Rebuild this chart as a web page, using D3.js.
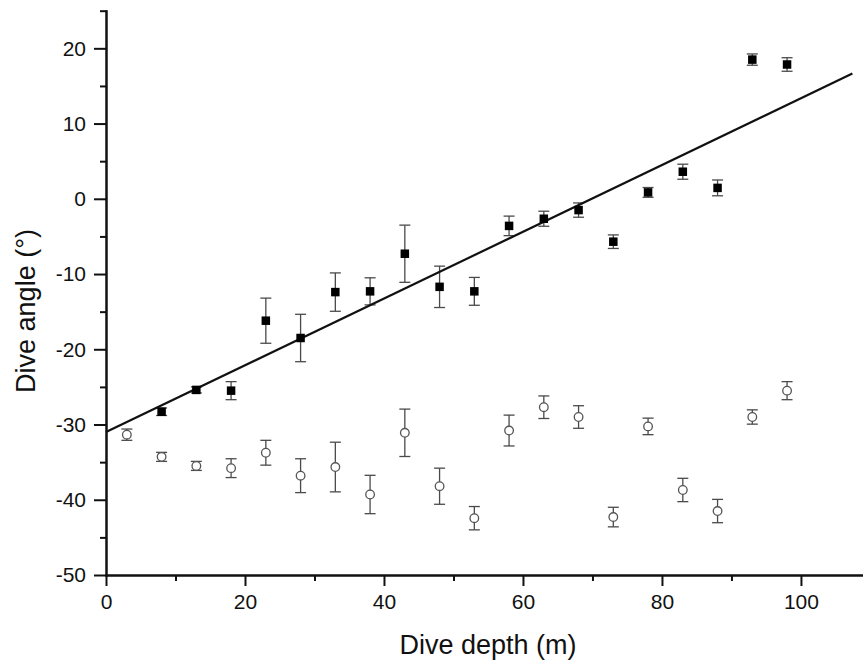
<!DOCTYPE html>
<html>
<head>
<meta charset="utf-8">
<script src="https://cdn.jsdelivr.net/npm/d3@7"></script>
<style>
  html, body { margin: 0; padding: 0; background: #fff; }
  svg { display: block; font-family: "Liberation Sans", Arial, Helvetica, sans-serif; }
</style>
</head>
<body>
<svg id="chart" width="863" height="662"></svg>
<script>
// Dive depth bins (m)
const depths = [3, 8, 13, 18, 23, 28, 33, 38, 43, 48, 53, 58, 63, 68, 73, 78, 83, 88, 93, 98];

// Filled squares: mean dive angle (°) and its error (null = no value)
const squareMean = [null, -28.3, -25.4, -25.5, -16.2, -18.5, -12.4, -12.3, -7.3, -11.7,
                    -12.3, -3.6, -2.65, -1.5, -5.7, 0.85, 3.6, 1.45, 18.5, 17.85];
const squareErr  = [null, 0.5, 0.4, 1.2, 3.0, 3.15, 2.55, 1.8, 3.8, 2.75,
                    1.85, 1.3, 1.0, 0.95, 0.9, 0.65, 1.0, 1.05, 0.75, 0.9];

// Open circles: mean dive angle (°) and its error
const circleMean = [-31.35, -34.3, -35.5, -35.8, -33.75, -36.8, -35.65, -39.3, -31.1, -38.2,
                    -42.45, -30.8, -27.7, -29.0, -42.3, -30.25, -38.7, -41.5, -29.0, -25.5];
const circleErr  = [0.75, 0.6, 0.6, 1.25, 1.65, 2.25, 3.3, 2.55, 3.15, 2.4,
                    1.55, 2.05, 1.5, 1.5, 1.3, 1.1, 1.55, 1.55, 0.95, 1.2];

// Linear fit through the filled squares
const fitIntercept = -31.0;
const fitSlope = 0.4436;
const fitRange = [0, 107.4];

// Axis ticks
const xMajor = [0, 20, 40, 60, 80, 100];
const xMinor = [10, 30, 50, 70, 90];
const yMajor = [-50, -40, -30, -20, -10, 0, 10, 20];
const yMinor = [-45, -35, -25, -15, -5, 5, 15, 25];

const svg = d3.select("#chart");
const ink = "#111";

const x = d3.scaleLinear().domain([0, 109]).range([106, 863.5]);
const y = d3.scaleLinear().domain([-50, 25]).range([575, 10.7]);

const squares = depths.map((d, i) => ({ d, m: squareMean[i], e: squareErr[i] }))
                      .filter(p => p.m !== null);
const circles = depths.map((d, i) => ({ d, m: circleMean[i], e: circleErr[i] }));

// plain hyphen-minus labels
const plain = v => String(v);

// --- axes ---
function styleAxis(g) {
  g.select(".domain").attr("stroke", ink).attr("stroke-width", 2);
  g.selectAll(".tick line").attr("stroke", ink).attr("stroke-width", 2);
  g.selectAll(".tick text").attr("fill", ink).attr("font-size", 21)
    .attr("font-family", "Liberation Sans, Arial, sans-serif");
}

svg.append("g").attr("transform", `translate(0,${y(-50)})`)
  .call(d3.axisBottom(x).tickValues(xMajor).tickFormat(plain)
        .tickSize(11).tickPadding(8).tickSizeOuter(0))
  .call(styleAxis);

svg.append("g").attr("transform", `translate(0,${y(-50)})`)
  .call(d3.axisBottom(x).tickValues(xMinor).tickSize(6).tickFormat("").tickSizeOuter(0))
  .call(styleAxis);

svg.append("g").attr("transform", `translate(${x(0)},0)`)
  .call(d3.axisLeft(y).tickValues(yMajor).tickFormat(plain)
        .tickSize(12).tickPadding(8).tickSizeOuter(0))
  .call(styleAxis);

svg.append("g").attr("transform", `translate(${x(0)},0)`)
  .call(d3.axisLeft(y).tickValues(yMinor).tickSize(6).tickFormat("").tickSizeOuter(0))
  .call(styleAxis);

svg.selectAll(".domain").attr("stroke-linecap", "square");

// --- axis titles ---
svg.append("text")
  .attr("x", 488).attr("y", 654)
  .attr("text-anchor", "middle")
  .attr("font-size", 27).attr("fill", ink)
  .text("Dive depth (m)");

svg.append("text")
  .attr("transform", "translate(35,311) rotate(-90)")
  .attr("text-anchor", "middle")
  .attr("font-size", 27).attr("fill", ink)
  .text("Dive angle (°)");

// --- error bars ---
const barColor = "#4a4a4a";
const capHalf = 5.5;

function drawErrorBars(data, cls) {
  const g = svg.append("g").attr("class", cls)
    .attr("stroke", barColor).attr("stroke-width", 1.3).attr("fill", "none");
  const sel = g.selectAll("g").data(data).join("g");
  sel.append("line")
    .attr("x1", p => x(p.d)).attr("x2", p => x(p.d))
    .attr("y1", p => y(p.m + p.e)).attr("y2", p => y(p.m - p.e));
  sel.append("line")
    .attr("x1", p => x(p.d) - capHalf).attr("x2", p => x(p.d) + capHalf)
    .attr("y1", p => y(p.m + p.e)).attr("y2", p => y(p.m + p.e));
  sel.append("line")
    .attr("x1", p => x(p.d) - capHalf).attr("x2", p => x(p.d) + capHalf)
    .attr("y1", p => y(p.m - p.e)).attr("y2", p => y(p.m - p.e));
}

drawErrorBars(circles, "circle-err");
drawErrorBars(squares, "square-err");

// --- fit line ---
const line = d3.line().x(d => x(d)).y(d => y(fitIntercept + fitSlope * d));
svg.append("path")
  .datum(fitRange)
  .attr("d", line)
  .attr("fill", "none")
  .attr("stroke", ink)
  .attr("stroke-width", 2.2);

// --- markers ---
svg.append("g").selectAll("circle").data(circles).join("circle")
  .attr("cx", p => x(p.d)).attr("cy", p => y(p.m))
  .attr("r", 4.3)
  .attr("fill", "#fff")
  .attr("stroke", "#555")
  .attr("stroke-width", 1.3);

const sq = 8.5;
svg.append("g").selectAll("rect").data(squares).join("rect")
  .attr("x", p => x(p.d) - sq / 2).attr("y", p => y(p.m) - sq / 2)
  .attr("width", sq).attr("height", sq)
  .attr("fill", "#000");
</script>
</body>
</html>
